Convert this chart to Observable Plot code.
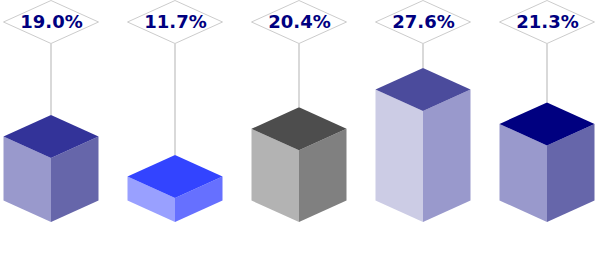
<!DOCTYPE html>
<html>
<head>
<meta charset="utf-8">
<script src="https://cdn.jsdelivr.net/npm/d3@7"></script>
<script src="https://cdn.jsdelivr.net/npm/@observablehq/plot@0.6"></script>
<style>
  html, body { margin: 0; padding: 0; background: #fff; }
  #chart svg { display: block; }
</style>
</head>
<body>
<div id="chart"></div>
<script>
const categories = ["A", "B", "C", "D", "E"];
const values = [19.0, 11.7, 20.4, 27.6, 21.3];
const labels = ["19.0%", "11.7%", "20.4%", "27.6%", "21.3%"];
const topColors = ["#333399", "#3344ff", "#4d4d4d", "#4b4b9c", "#000080"];
const leftColors = ["#9999cc", "#99a0ff", "#b3b3b3", "#ccccE5", "#9999cc"];
const rightColors = ["#6666aa", "#6670ff", "#808080", "#9999cc", "#6666aa"];

const data = categories.map((c, i) => ({c, v: values[i], label: labels[i], i}));

const HW = 47.5;   // half width of box face (px)
const HH = 21.5;   // half height of diamond (px)
const LABEL_Y = 22;
const svgNS = "http://www.w3.org/2000/svg";

function poly(pts, fill, stroke) {
  const p = document.createElementNS(svgNS, "polygon");
  p.setAttribute("points", pts.map(d => d.join(",")).join(" "));
  p.setAttribute("fill", fill);
  if (stroke) { p.setAttribute("stroke", stroke); p.setAttribute("stroke-width", 1); }
  else p.setAttribute("stroke", "none");
  return p;
}

function boxes(index, scales) {
  const g = document.createElementNS(svgNS, "g");
  const x = scales.x, y = scales.y;
  const base = y(7.3);
  for (const d of data) {
    const cx = x(d.c);
    const fy = y(d.v);
    const ln = document.createElementNS(svgNS, "line");
    ln.setAttribute("x1", cx); ln.setAttribute("x2", cx);
    ln.setAttribute("y1", LABEL_Y + HH); ln.setAttribute("y2", fy - 2 * HH);
    ln.setAttribute("stroke", "#cccccc"); ln.setAttribute("stroke-width", 1.5);
    g.appendChild(ln);
    g.appendChild(poly([[cx, LABEL_Y - HH], [cx + HW, LABEL_Y], [cx, LABEL_Y + HH], [cx - HW, LABEL_Y]], "#ffffff", "#cccccc"));
    g.appendChild(poly([[cx - HW, fy - HH], [cx, fy], [cx, base], [cx - HW, base - HH]], leftColors[d.i]));
    g.appendChild(poly([[cx + HW, fy - HH], [cx, fy], [cx, base], [cx + HW, base - HH]], rightColors[d.i]));
    g.appendChild(poly([[cx, fy - 2 * HH], [cx + HW, fy - HH], [cx, fy], [cx - HW, fy - HH]], topColors[d.i]));
  }
  return g;
}

const chart = Plot.plot({
  width: 600,
  height: 259,
  margin: 0,
  style: {background: "#fff", overflow: "visible"},
  x: {type: "point", domain: categories, range: [49, 548], padding: 0, axis: null},
  y: {type: "linear", domain: [7.3, 27.6], range: [222, 111], axis: null},
  marks: [
    boxes,
    Plot.text(data, {
      x: "c",
      frameAnchor: "top",
      dy: LABEL_Y,
      text: "label",
      fill: "#000080",
      fontSize: 18,
      fontWeight: "bold",
      fontFamily: "DejaVu Sans",
      lineAnchor: "middle"
    })
  ]
});
document.getElementById("chart").appendChild(chart);
</script>
</body>
</html>
